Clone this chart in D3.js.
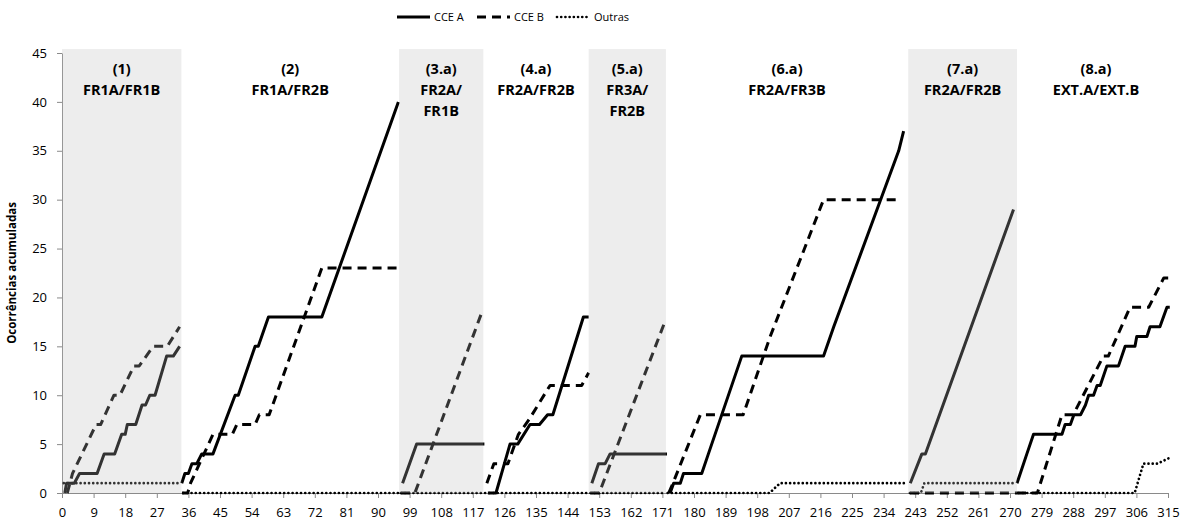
<!DOCTYPE html>
<html>
<head>
<meta charset="utf-8">
<script src="https://cdn.jsdelivr.net/npm/d3@7"></script>
<style>
    body { margin: 0; background: #fff; }
    svg { display: block; }
</style>
</head>
<body>
<svg id="chart"></svg>
<script>
let width = 1183;
let height = 522;

// tick labels
let xTicks = [0, 9, 18, 27, 36, 45, 54, 63, 72, 81, 90, 99, 108, 117, 126, 135, 144, 153, 162, 171,
              180, 189, 198, 207, 216, 225, 234, 243, 252, 261, 270, 279, 288, 297, 306, 315];
let yTicks = [0, 5, 10, 15, 20, 25, 30, 35, 40, 45];

// sections of the session
let sectionTitles = [
    ["(1)", "FR1A/FR1B"],
    ["(2)", "FR1A/FR2B"],
    ["(3.a)", "FR2A/", "FR1B"],
    ["(4.a)", "FR2A/FR2B"],
    ["(5.a)", "FR3A/", "FR2B"],
    ["(6.a)", "FR2A/FR3B"],
    ["(7.a)", "FR2A/FR2B"],
    ["(8.a)", "EXT.A/EXT.B"]
];
let sectionBounds = [0, 34, 96, 120, 150, 172, 241, 272, 317];
let shadedSections = [0, 2, 4, 6];

let seriesNames = ["CCE A", "CCE B", "Outras"];

// one array of [x, y] points per section
let cceA = [
    [[0.8, 0], [1.3, 1], [3.5, 1], [5, 2], [10, 2], [12, 4], [15, 4], [17, 6], [18, 6], [18.6, 7], [21, 7],
     [22.8, 9], [23.8, 9], [25, 10], [26.5, 10], [29.8, 14], [31.7, 14], [33.5, 15]],
    [[34.1, 1], [35, 2], [36, 2], [37, 3], [38.4, 3], [39.8, 4], [43, 4], [49.3, 10], [50.2, 10], [55, 15],
     [55.9, 15], [58.8, 18], [74, 18], [95.8, 40]],
    [[97, 1], [101, 5], [120.3, 5]],
    [[121.3, 0], [123.6, 0], [127.6, 5], [129.8, 5], [133.3, 7], [136, 7], [138.3, 8], [139.8, 8],
     [148.5, 18], [150, 18]],
    [[150.9, 1], [152.8, 3], [154.7, 3], [156.1, 4], [172.3, 4]],
    [[173.2, 0], [174.2, 1], [176.1, 1], [177, 2], [182.2, 2], [184.1, 4], [193.6, 14], [216.9, 14],
     [219.8, 17], [238.3, 35], [239.7, 37]],
    [[241.6, 1], [244.9, 4], [245.9, 4], [271, 29]],
    [[272, 1], [274.8, 4], [276.7, 6], [284.8, 6], [285.7, 7], [287.2, 7], [288.2, 8], [290.1, 8],
     [291.5, 9], [292.4, 10], [293.8, 10], [294.8, 11], [295.7, 11], [297.6, 13], [300.9, 13],
     [302.8, 15], [305.6, 15], [306.1, 16], [309, 16], [309.9, 17], [312.7, 17], [314.7, 19], [315.5, 19]]
];

let cceB = [
    [[1.5, 0], [3, 2], [9.7, 7], [11, 7], [14.8, 10], [16.5, 10], [20.5, 13], [22, 13], [26, 15],
     [30, 15], [33.5, 17]],
    [[34.2, 0], [35.8, 0], [36.6, 1], [43, 6], [48.5, 6], [49.8, 7], [55, 7], [56.2, 8], [59, 8],
     [74, 23], [96, 23]],
    [[96.5, 0], [100.5, 0], [119.7, 18.6]],
    [[121, 1], [123, 3], [127, 3], [130, 6], [131, 6.5], [133, 7.5], [139, 11], [148, 11], [150, 12.3]],
    [[150.5, 0], [153, 0], [171.8, 17.6]],
    [[172.8, 0], [174, 1], [181.8, 8], [194, 8], [201.7, 16], [216.9, 30], [238.7, 30]],
    [[241.5, 0], [272, 0]],
    [[272, 0], [277.8, 0], [284.8, 8], [288, 8], [296.6, 14], [298, 14], [304.2, 19], [309.5, 19],
     [313.8, 22], [315.5, 22]]
];

let outras = [
    [[0.5, 1], [34, 1]],
    [[34.5, 0], [96, 0]],
    [[96.5, 0], [120, 0]],
    [[120.5, 0], [150, 0]],
    [[150.5, 0], [172, 0]],
    [[172.5, 0], [201.5, 0], [204.5, 1], [240.5, 1]],
    [[241.5, 0], [244.6, 0], [245.6, 1], [271, 1]],
    [[272.5, 0], [305.5, 0], [308, 3], [312, 3], [315.5, 3.6]]
];

let seriesData = [cceA, cceB, outras];
let seriesStyles = [
    { width: 3, dash: null, cap: "butt" },
    { width: 3, dash: "9,6", cap: "butt" },
    { width: 2.7, dash: "0.01,4.2", cap: "round" }
];

let svg = d3.select("#chart")
    .attr("width", width)
    .attr("height", height);

let xScale = d3.scaleLinear().domain([0, 315]).range([62, 1168]);
let yScale = d3.scaleLinear().domain([0, 45]).range([493, 53]);

let axisColor = "#8a8a8a";
let font = "'Open Sans', 'Liberation Sans', sans-serif";

// axes
let xAxis = d3.axisBottom(xScale).tickValues(xTicks).tickSize(5).tickSizeOuter(0).tickPadding(10);
let yAxis = d3.axisLeft(yScale).tickValues(yTicks).tickSize(5).tickSizeOuter(0).tickPadding(10);

let gx = svg.append("g")
    .attr("transform", `translate(0, ${yScale(0)})`)
    .call(xAxis);
let gy = svg.append("g")
    .attr("transform", `translate(${xScale(0)}, 0)`)
    .call(yAxis);

[gx, gy].forEach(g => {
    g.select(".domain").attr("stroke", axisColor).attr("stroke-width", 1);
    g.selectAll(".tick line").attr("stroke", axisColor);
    g.selectAll(".tick text")
        .attr("fill", "#000")
        .style("font-family", font)
        .style("font-size", "13px");
});

// lines, one path per section
let line = d3.line()
    .x(d => xScale(d[0]))
    .y(d => yScale(d[1]));

seriesData.forEach((segments, i) => {
    let st = seriesStyles[i];
    svg.append("g")
        .selectAll("path")
        .data(segments)
        .enter()
        .append("path")
        .attr("d", line)
        .attr("fill", "none")
        .attr("stroke", "#000")
        .attr("stroke-width", st.width)
        .attr("stroke-linecap", st.cap)
        .attr("stroke-linejoin", "round")
        .attr("stroke-dasharray", st.dash);
});

// shaded sections (drawn over the lines, semi transparent)
svg.append("g")
    .selectAll("rect")
    .data(shadedSections)
    .enter()
    .append("rect")
    .attr("x", i => xScale(sectionBounds[i]))
    .attr("width", i => xScale(sectionBounds[i + 1]) - xScale(sectionBounds[i]))
    .attr("y", yScale(45.4))
    .attr("height", yScale(0) - yScale(45.4))
    .attr("fill", "rgb(187,187,187)")
    .attr("fill-opacity", 0.27);

// section titles
let titles = svg.append("g")
    .selectAll("text")
    .data(sectionTitles)
    .enter()
    .append("text")
    .attr("text-anchor", "middle")
    .attr("font-family", font)
    .attr("font-weight", "bold")
    .attr("font-size", "14.5px")
    .attr("fill", "#000");

titles.each(function (rows, i) {
    let cx = xScale((sectionBounds[i] + sectionBounds[i + 1]) / 2);
    d3.select(this)
        .selectAll("tspan")
        .data(rows)
        .enter()
        .append("tspan")
        .attr("x", cx)
        .attr("y", (d, j) => 74 + j * 21)
        .text(d => d);
});

// y axis title
svg.append("text")
    .attr("transform", `translate(16, ${(yScale(0) + yScale(45)) / 2}) rotate(-90)`)
    .attr("text-anchor", "middle")
    .attr("font-family", font)
    .attr("font-weight", "bold")
    .attr("font-size", "11.5px")
    .attr("fill", "#000")
    .text("Ocorrências acumuladas");

// legend
let legendX = [397, 477, 557];
let legend = svg.append("g")
    .selectAll("g")
    .data(seriesNames)
    .enter()
    .append("g")
    .attr("transform", (d, i) => `translate(${legendX[i]}, 17)`);

legend.append("line")
    .attr("x1", 0)
    .attr("x2", 33)
    .attr("stroke", "#000")
    .attr("stroke-width", (d, i) => seriesStyles[i].width)
    .attr("stroke-linecap", (d, i) => seriesStyles[i].cap)
    .attr("stroke-dasharray", (d, i) => seriesStyles[i].dash);

legend.append("text")
    .attr("x", 37)
    .attr("dy", "0.35em")
    .attr("font-family", font)
    .attr("font-size", "11px")
    .attr("fill", "#000")
    .text(d => d);
</script>
</body>
</html>
